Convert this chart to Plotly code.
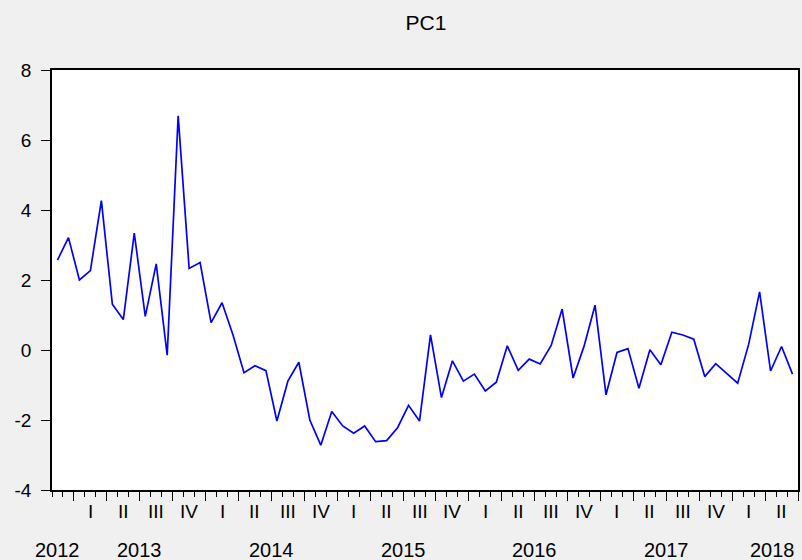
import plotly.graph_objects as go
import pandas as pd

# ---- data ----
title = "PC1"
months = [str(p) for p in pd.period_range("2012-11", "2018-06", freq="M")]
pc1 = [2.57, 3.21, 2.00, 2.27, 4.27, 1.31, 0.87, 3.34, 0.96, 2.46,
       -0.15, 6.69, 2.33, 2.50, 0.78, 1.35, 0.43, -0.65, -0.45, -0.59,
       -2.03, -0.89, -0.35, -2.00, -2.72, -1.76, -2.17, -2.38, -2.17, -2.62,
       -2.59, -2.22, -1.58, -2.03, 0.43, -1.36, -0.31, -0.89, -0.69, -1.17,
       -0.92, 0.12, -0.58, -0.26, -0.40, 0.13, 1.17, -0.80, 0.11, 1.28,
       -1.28, -0.07, 0.04, -1.09, 0.01, -0.42, 0.51, 0.43, 0.31, -0.76,
       -0.39, -0.67, -0.95, 0.16, 1.66, -0.60, 0.10, -0.69]
quarter_names = ["I", "II", "III", "IV"]
y_ticks = [-4, -2, 0, 2, 4, 6, 8]

FONT = "Arial, Liberation Sans, sans-serif"
n = len(months)
idx = list(range(n))
years = [int(m[:4]) for m in months]
mons = [int(m[5:7]) for m in months]

fig = go.Figure()
fig.add_trace(go.Scatter(x=idx, y=pc1, mode="lines",
                         line=dict(color="#0000FF", width=1.7),
                         text=months, hovertemplate="%{text}: %{y}<extra></extra>"))

# quarter boundaries (major ticks)
qbounds = [i - 0.5 for i in idx if mons[i] in (1, 4, 7, 10)]
if qbounds[-1] != n - 0.5:
    qbounds.append(n - 0.5)

annotations = []
# quarter labels: full quarters only, centered at middle month
for i in idx:
    if mons[i] in (2, 5, 8, 11) and 0 < i < n - 1 and mons[i - 1] == mons[i] - 1:
        annotations.append(dict(x=i, y=0, xref="x", yref="paper",
                                text=quarter_names[(mons[i] - 1) // 3],
                                showarrow=False, yanchor="middle", yshift=-21.5,
                                font=dict(family=FONT, size=19, color="#000")))
# year labels
uniq = sorted(set(years))
for k, yv in enumerate(uniq):
    ii = [i for i in idx if years[i] == yv]
    if k == 0:
        xpos, anchor = ii[0], "center"
    elif k == len(uniq) - 1 and len(ii) < 12:
        xpos, anchor = n - 0.55, "right"
    else:
        xpos, anchor = sum(ii) / len(ii), "center"
    annotations.append(dict(x=xpos, y=0, xref="x", yref="paper", text=str(yv),
                            showarrow=False, xanchor=anchor, yanchor="middle",
                            yshift=-60, font=dict(family=FONT, size=20, color="#000")))

fig.update_layout(
    width=802, height=560,
    margin=dict(l=52, r=2, t=70, b=70),
    paper_bgcolor="#F0F0F0", plot_bgcolor="#FFFFFF",
    showlegend=False,
    title=dict(text=title, x=(52 + 800) / 2 / 802, xanchor="center",
               y=1 - 22.5 / 560, yanchor="middle", yref="container",
               font=dict(family=FONT, size=21, color="#000")),
    annotations=annotations,
    font=dict(family=FONT),
)
fig.update_xaxes(range=[-0.5, n - 0.5], showgrid=False, zeroline=False,
                 showline=True, linecolor="#000", linewidth=1.5, mirror=True,
                 tickmode="array", tickvals=qbounds, ticks="outside",
                 ticklen=9, tickwidth=1.2, tickcolor="#000", showticklabels=False,
                 minor=dict(tickmode="linear", tick0=-0.5, dtick=1, ticks="outside",
                            ticklen=5, tickwidth=1.2, tickcolor="#000", showgrid=False))
fig.update_yaxes(range=[-4, 8], tickmode="array", tickvals=y_ticks,
                 ticktext=[str(v) for v in y_ticks],
                 showgrid=False, zeroline=False, showline=True, linecolor="#000",
                 linewidth=1.5, mirror=True, ticks="outside", ticklen=9, tickwidth=1.2,
                 tickcolor="#000", ticklabelstandoff=6,
                 tickfont=dict(family=FONT, size=19, color="#000"))

fig.write_html("out.html",
               config={"displayModeBar": False},
               post_script="document.body.style.margin='0';"
                           "document.body.style.overflow='hidden';"
                           "document.body.style.background='#F0F0F0';")
